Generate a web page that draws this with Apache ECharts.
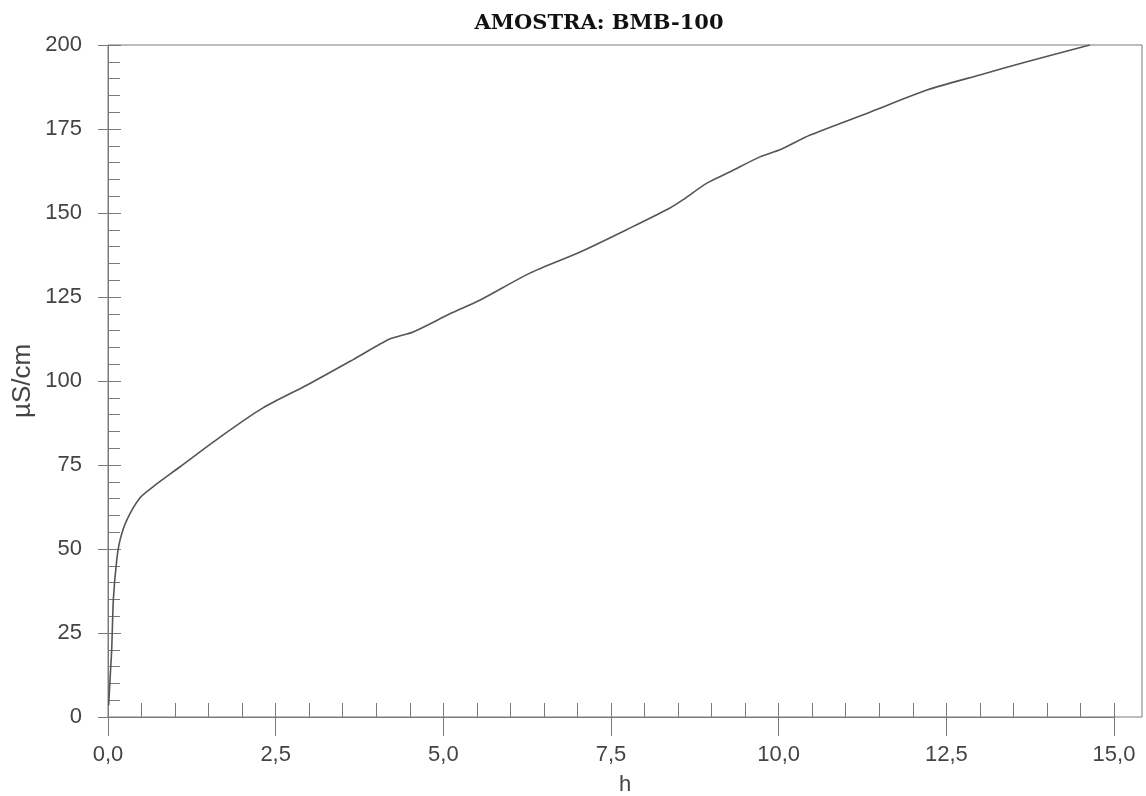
<!DOCTYPE html>
<html>
<head>
<meta charset="utf-8">
<script src="https://cdn.jsdelivr.net/npm/echarts@6/dist/echarts.min.js"></script>
<style>html,body{margin:0;padding:0;background:#fff;}#c{width:1146px;height:796px;}</style>
</head>
<body>
<div id="c"></div>
<script>
// Data
const timeH = [0.01, 0.03, 0.055, 0.08, 0.13, 0.18, 0.28, 0.48, 0.67, 1.07, 1.67, 2.31, 2.97, 3.65, 4.2, 4.55, 5.1, 5.55, 6.29, 7.04, 7.78, 8.38, 8.57, 8.93, 9.27, 9.72, 10.02, 10.47, 11.36, 12.21, 13.0, 13.7, 14.64];
const conductivity = [3.5, 11, 20, 35, 46.7, 52.7, 58.6, 65.3, 68.5, 74.4, 83.3, 92, 98.8, 106.3, 112.5, 114.6, 120, 124.1, 132.1, 138.4, 145.5, 151.5, 153.9, 158.9, 162.2, 166.7, 168.8, 173.2, 180, 186.6, 191.1, 195, 200];
const xTickLabels = ['0,0', '2,5', '5,0', '7,5', '10,0', '12,5', '15,0'];
const yTickLabels = ['0', '25', '50', '75', '100', '125', '150', '175', '200'];

const seriesData = timeH.map((t, i) => [t, conductivity[i]]);
const axisColor = '#7a7a7a';
const labelColor = '#444';
const sansFont = 'Liberation Sans, Arial, sans-serif';

const chart = echarts.init(document.getElementById('c'), null, {renderer: 'canvas'});
chart.setOption({
  backgroundColor: '#fff',
  animation: false,
  title: {
    text: 'AMOSTRA: BMB-100',
    left: 594, top: 8, textAlign: 'center',
    textStyle: {fontFamily: 'DejaVu Serif, serif', fontWeight: 'bold', fontSize: 21, color: '#111'}
  },
  grid: [
    {left: 108, top: 45, width: 1034, height: 672, show: true, borderColor: axisColor, borderWidth: 1,
     backgroundColor: 'transparent', containLabel: false, outerBoundsMode: 'none'},
    {left: 108, top: 45, width: 1006, height: 672, show: false, containLabel: false, outerBoundsMode: 'none'}
  ],
  xAxis: [
    {type: 'value', gridIndex: 0, min: 0, max: 15.42,
     name: 'h', nameLocation: 'middle', nameGap: 57,
     nameTextStyle: {fontFamily: sansFont, fontSize: 22, color: labelColor},
     axisLine: {show: false}, axisTick: {show: false}, axisLabel: {show: false}, splitLine: {show: false}},
    {type: 'value', gridIndex: 1, min: 0, max: 15, interval: 2.5, position: 'bottom',
     axisLine: {show: true, onZero: false, lineStyle: {color: axisColor, width: 1}},
     axisTick: {show: true, inside: true, length: 14, lineStyle: {color: axisColor}},
     minorTick: {show: true, splitNumber: 5, length: 14, lineStyle: {color: axisColor}},
     axisLabel: {show: true, margin: 27, fontFamily: sansFont, fontSize: 22, color: labelColor,
       formatter: v => xTickLabels[Math.round(v / 2.5)]},
     splitLine: {show: false}},
    {type: 'value', gridIndex: 1, min: 0, max: 15, interval: 2.5, position: 'bottom',
     axisLine: {show: false, onZero: false},
     axisTick: {show: true, inside: false, length: 19, lineStyle: {color: axisColor}},
     axisLabel: {show: false}, splitLine: {show: false}}
  ],
  yAxis: [
    {type: 'value', gridIndex: 0, min: 0, max: 200,
     name: 'µS/cm', nameLocation: 'middle', nameGap: 72, nameRotate: 90,
     nameTextStyle: {fontFamily: sansFont, fontSize: 26, color: labelColor},
     axisLine: {show: false}, axisTick: {show: false}, axisLabel: {show: false}, splitLine: {show: false}},
    {type: 'value', gridIndex: 1, min: 0, max: 200, interval: 25, position: 'left',
     axisLine: {show: true, onZero: false, lineStyle: {color: axisColor, width: 1}},
     axisTick: {show: true, inside: true, length: 13, lineStyle: {color: axisColor}},
     minorTick: {show: true, splitNumber: 5, length: 12, lineStyle: {color: axisColor}},
     axisLabel: {show: true, margin: 26, fontFamily: sansFont, fontSize: 22, color: labelColor,
       formatter: v => yTickLabels[Math.round(v / 25)]},
     splitLine: {show: false}},
    {type: 'value', gridIndex: 1, min: 0, max: 200, interval: 25, position: 'left',
     axisLine: {show: false, onZero: false},
     axisTick: {show: true, inside: false, length: 10, lineStyle: {color: axisColor}},
     axisLabel: {show: false}, splitLine: {show: false}}
  ],
  series: [{
    type: 'line', xAxisIndex: 1, yAxisIndex: 1,
    data: seriesData, showSymbol: false, smooth: 0.25,
    lineStyle: {color: '#555', width: 1.6}
  }]
});
</script>
</body>
</html>
